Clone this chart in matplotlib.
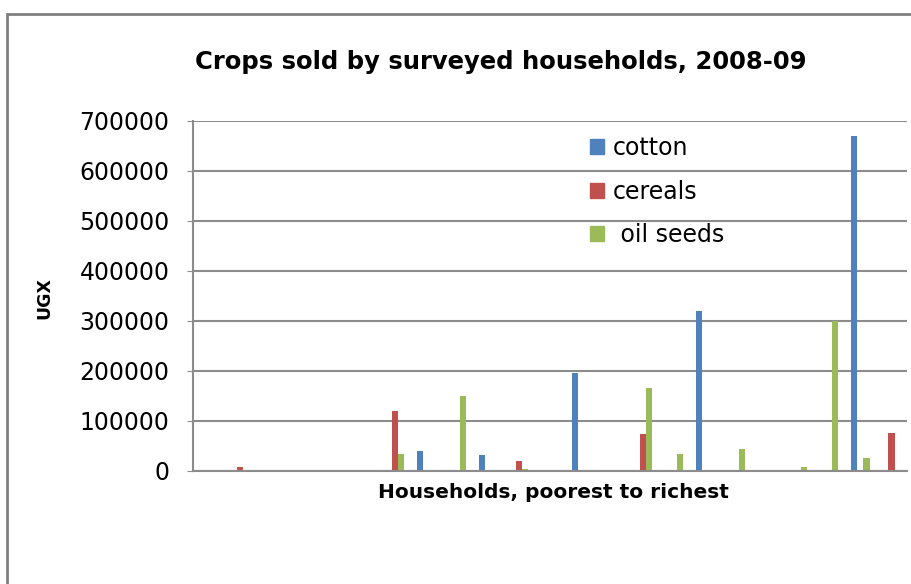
import matplotlib.pyplot as plt
import numpy as np
from matplotlib.patches import Rectangle, Patch

# households, poorest to richest (23 categories, no tick labels in original)
households = list(range(23))
cotton = [0, 0, 0, 0, 0, 0, 0, 40000, 0, 32000, 0, 0, 196000, 0,
          0, 0, 320000, 0, 0, 0, 0, 670000, 0]
cereals = [0, 8000, 0, 0, 0, 0, 120000, 0, 0, 0, 20000, 0, 0, 0,
           74000, 0, 0, 0, 0, 0, 0, 0, 76000]
oil_seeds = [0, 0, 0, 0, 0, 0, 34000, 0, 150000, 0, 5000, 0, 0, 0,
             166000, 34000, 1500, 44000, 0, 9000, 300000, 27000, 0]

series = [("cotton", cotton, "#4F81BD"),
          ("cereals", cereals, "#C0504D"),
          (" oil seeds", oil_seeds, "#9BBB59")]

fig = plt.figure(figsize=(9.11, 5.84), dpi=100)
fig.patch.set_facecolor("white")

# chart frame (clipped on the right/bottom like the screenshot)
fig.patches.append(Rectangle((7 / 911, -0.2), 1.2, 0.2 + 1 - 14 / 584,
                             transform=fig.transFigure, fill=False,
                             edgecolor="#808080", linewidth=2))

ax = fig.add_axes([193 / 911, 1 - 471 / 584, 714 / 911, 350 / 584])

x = np.arange(len(households))
w = 0.195
for i, (name, vals, col) in enumerate(series):
    ax.bar(x + (i - 1) * w, vals, width=w, color=col, label=name)

ax.set_xlim(-0.5, len(households) - 0.5)
ax.set_ylim(0, 700000)
ax.set_yticks(np.arange(0, 700001, 100000))
ax.set_yticklabels([str(v) for v in range(0, 700001, 100000)])
ax.set_xticks([])
ax.yaxis.grid(True, color="#8c8c8c", linewidth=1.5)
ax.set_axisbelow(True)
for s in ["top", "right"]:
    ax.spines[s].set_visible(False)
ax.spines["left"].set_color("#8c8c8c")
ax.spines["bottom"].set_color("#8c8c8c")
ax.spines["left"].set_linewidth(1.5)
ax.spines["bottom"].set_linewidth(1.5)
ax.tick_params(axis="y", length=4, color="#8c8c8c", labelsize=17, pad=13)

fig.text(501 / 911, 1 - 62 / 584, "Crops sold by surveyed households, 2008-09",
         ha="center", va="center", fontsize=17.5, fontweight="bold")
fig.text(553 / 911, 1 - 492 / 584, "Households, poorest to richest",
         ha="center", va="center", fontsize=14.5, fontweight="bold")
fig.text(44 / 911, 1 - 298 / 584, "UGX", ha="center", va="center",
         rotation=90, fontsize=12.5, fontweight="bold")

handles = [Patch(color=c) for _, _, c in series]
ax.legend(handles, [n for n, _, _ in series], loc="upper left",
          bbox_to_anchor=(569 / 911, 1 - 115 / 584),
          bbox_transform=fig.transFigure, frameon=False, fontsize=17,
          handlelength=0.6, handleheight=0.6, handletextpad=0.35,
          labelspacing=0.82)

fig.savefig("out.png", dpi=100)
